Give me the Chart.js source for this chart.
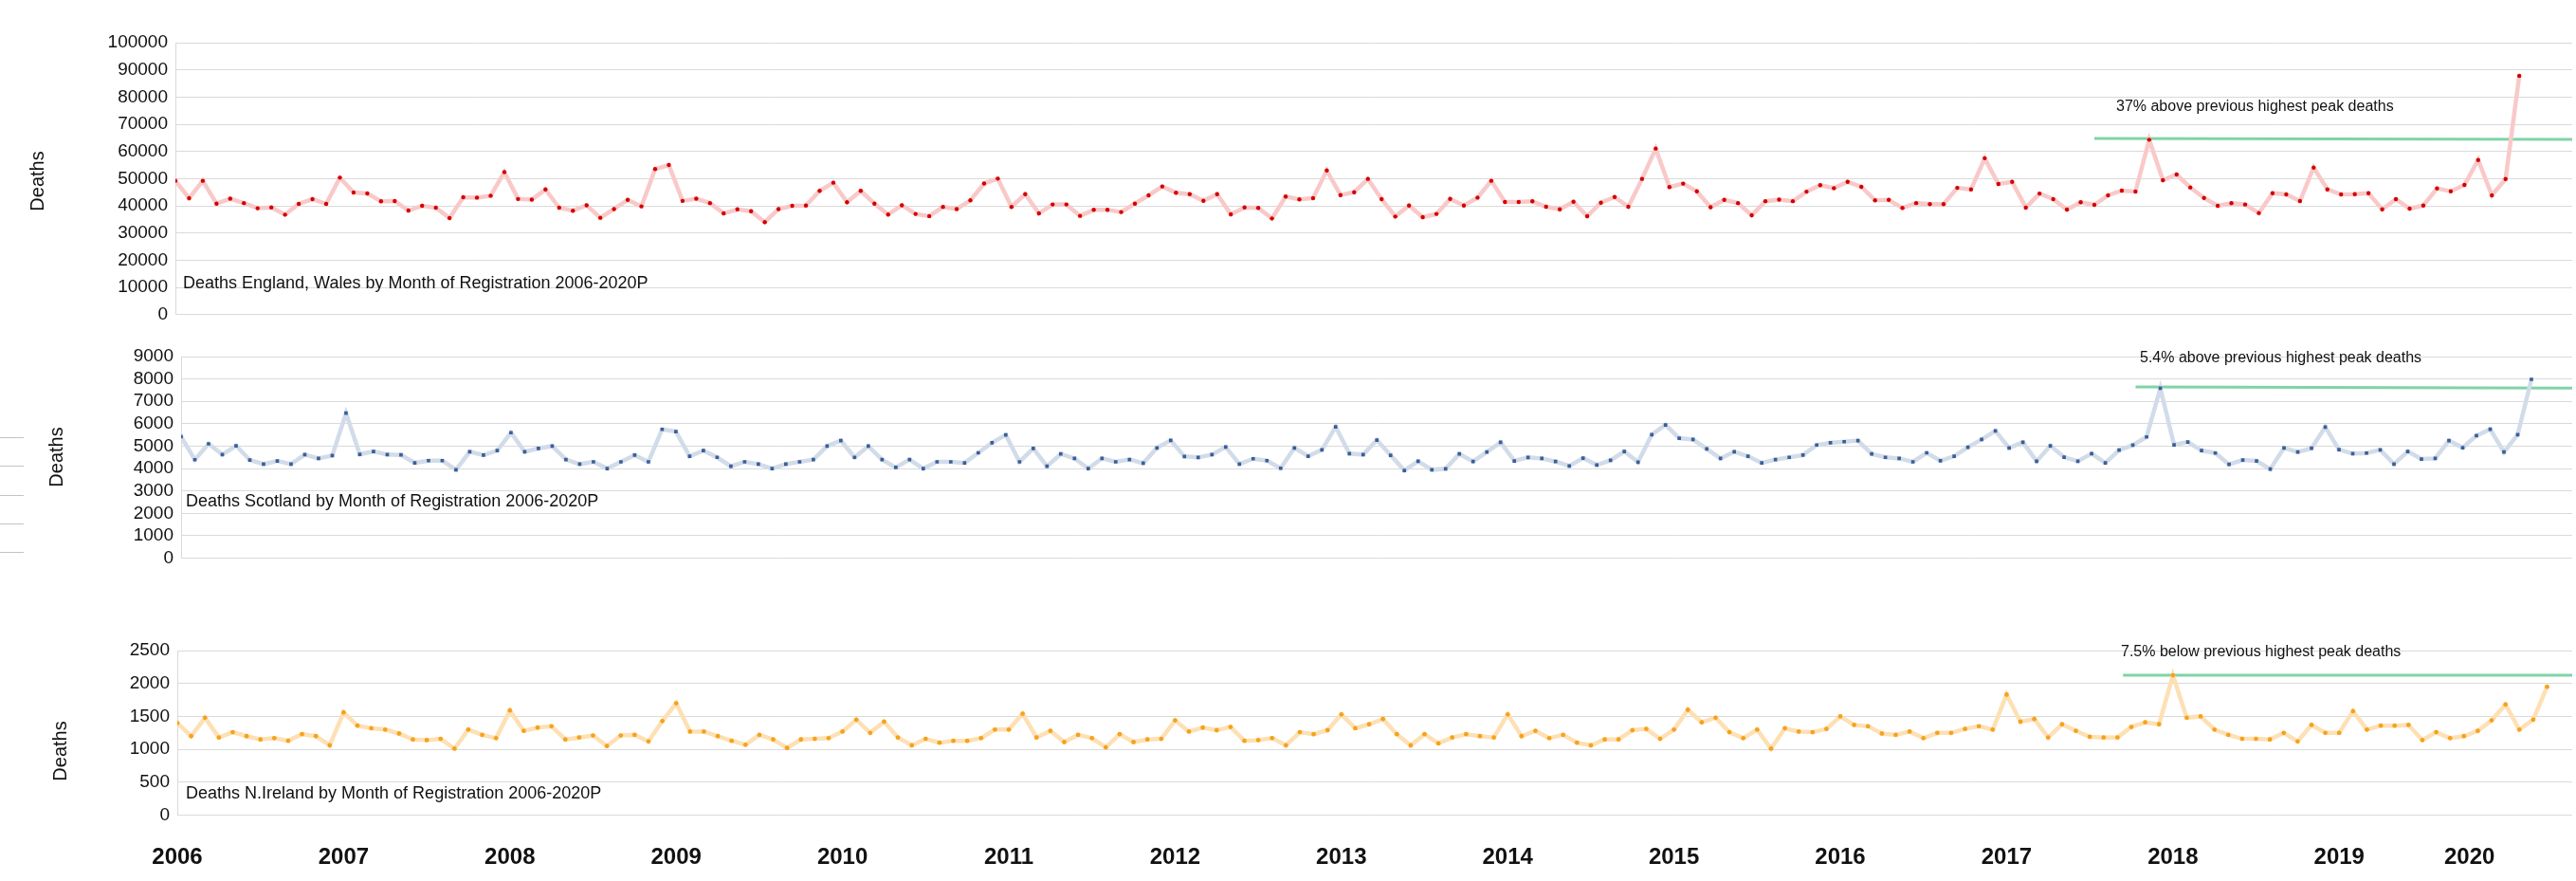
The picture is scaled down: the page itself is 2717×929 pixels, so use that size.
<!DOCTYPE html>
<html lang="en">
<head>
    <meta charset="UTF-8">
    <title>Deaths by Month of Registration 2006-2020P</title>
    <script src="https://cdn.jsdelivr.net/npm/chart.js"></script>
    <style>
        html, body { margin: 0; padding: 0; background: #fff; }
        body { width: 2717px; height: 929px; position: relative; overflow: hidden; }
        canvas { position: absolute; left: 0; }
    </style>
</head>
<body>
    <canvas id="ewChart" width="2717" height="360" style="top:0px"></canvas>
    <canvas id="scotChart" width="2717" height="270" style="top:345px"></canvas>
    <canvas id="niChart" width="2717" height="329" style="top:600px"></canvas>

    <script>
        // x-axis tick labels (one per January)
        const years = [2006, 2007, 2008, 2009, 2010, 2011, 2012, 2013, 2014, 2015, 2016, 2017, 2018, 2019, 2020];

        // Monthly deaths, Jan 2006 .. Apr 2020
        const ewDeaths = [
            49200, 42800, 49200, 40800, 42600, 41000, 39100, 39400, 36750, 40700, 42450, 40700,
            50350, 44900, 44550, 41650, 41750, 38250, 40000, 39300, 35500, 43150, 43000, 43700,
            52400, 42500, 42300, 46000, 39300, 38200, 40200, 35600, 38800, 42200, 39800, 53500,
            55000, 41800, 42600, 41000, 37200, 38700, 38000, 34000, 38800, 40000, 40100, 45500,
            48500, 41300, 45500, 40800, 36800, 40200, 37000, 36200, 39600, 38800, 42000, 48200,
            50000, 39600, 44300, 37200, 40500, 40500, 36300, 38500, 38500, 37700, 40800, 43850,
            47100, 44800, 44300, 41850, 44300, 36850, 39400, 39200, 35350, 43400, 42350, 42800,
            53000, 43950, 45000, 49900, 42450, 36050, 40100, 35800, 37000, 42550, 40100, 43000,
            49200, 41400, 41400, 41650, 39650, 38700, 41500, 36150, 41150, 43250, 39650, 49900,
            61050, 46900, 48150, 45350, 39500, 42200, 41000, 36500, 41700, 42300, 41700, 45200,
            47600, 46500, 48800, 47000, 42000, 42200, 39200, 41000, 40600, 40600, 46600, 46000,
            57500, 48030, 48830, 39350, 44500, 42450, 38600, 41300, 40350, 43850, 45600, 45250,
            64300, 49420, 51520, 46750, 42900, 40000, 40950, 40470, 37330, 44650, 44200, 41750,
            54070, 46040, 44190, 44300, 44650, 38700, 42450, 38950, 40120, 46400, 45350, 47680,
            56860, 43850, 49880, 87800
        ];

        const scotDeaths = [
            5428, 4395, 5102, 4623, 5017, 4381, 4198, 4339, 4198, 4623, 4452, 4579,
            6471, 4636, 4763, 4623, 4608, 4254, 4353, 4353, 3945, 4749, 4600, 4800,
            5600, 4750, 4900, 5000, 4400, 4200, 4300, 4000, 4300, 4600, 4300, 5750,
            5650, 4550, 4800, 4500, 4100, 4300, 4200, 4000, 4200, 4300, 4400, 5000,
            5250, 4500, 5000, 4400, 4050, 4400, 4000, 4300, 4300, 4250, 4700, 5150,
            5500, 4300, 4900, 4100, 4650, 4450, 4000, 4450, 4300, 4400, 4241, 4919,
            5258, 4538, 4496, 4623, 4962, 4198, 4438, 4353, 4014, 4919, 4551, 4834,
            5864, 4665, 4623, 5271, 4593, 3915, 4325, 3945, 3987, 4651, 4311, 4735,
            5173, 4339, 4496, 4452, 4311, 4114, 4466, 4156, 4367, 4763, 4283, 5512,
            5949, 5356, 5299, 4877, 4450, 4750, 4550, 4250, 4400, 4500, 4600, 5050,
            5150, 5200, 5250, 4650, 4500, 4450, 4300, 4700, 4350, 4550, 4950, 5300,
            5682, 4919, 5173, 4325, 5017, 4508, 4325, 4665, 4254, 4820, 5045, 5412,
            7589, 5059, 5186, 4805, 4692, 4184, 4381, 4339, 3973, 4919, 4735, 4905,
            5852, 4847, 4665, 4692, 4834, 4198, 4763, 4424, 4452, 5243, 4932, 5470,
            5752, 4735, 5512, 7983
        ];

        const niDeaths = [
            1400, 1200, 1480, 1180, 1260, 1200, 1150, 1170, 1130, 1230, 1200, 1060,
            1560, 1360, 1320, 1300, 1240, 1150, 1140, 1160, 1010, 1300, 1220, 1170,
            1590, 1280, 1330, 1350, 1150, 1180, 1210, 1050, 1210, 1220, 1120, 1430,
            1700, 1270, 1270, 1200, 1130, 1070, 1220, 1150, 1020, 1150, 1160, 1170,
            1270, 1450, 1250, 1420, 1180, 1060, 1160, 1100, 1130, 1130, 1170, 1300,
            1300, 1540, 1180, 1280, 1110, 1220, 1170, 1030, 1230, 1110, 1150, 1160,
            1440, 1270, 1330, 1290, 1340, 1130, 1140, 1170, 1060, 1260, 1230, 1290,
            1530, 1320, 1380, 1460, 1230, 1060, 1230, 1090, 1180, 1230, 1200, 1180,
            1530, 1200, 1280, 1170, 1220, 1100, 1060, 1150, 1150, 1290, 1310, 1160,
            1300, 1600, 1410, 1480, 1260, 1170, 1300, 1010, 1320, 1270, 1260, 1310,
            1500, 1370, 1350, 1240, 1220, 1270, 1170, 1250, 1250, 1310, 1350, 1300,
            1830, 1420, 1460, 1180, 1380, 1280, 1190, 1180, 1180, 1340, 1410, 1380,
            2125, 1480, 1500, 1300, 1220, 1160, 1160, 1150, 1250, 1120, 1370, 1250,
            1250, 1580, 1300, 1360, 1360, 1370, 1140, 1260, 1170, 1200, 1280, 1440,
            1680, 1300, 1450, 1950
        ];

        // previous highest peak reference lines: [start month index, value at start, value at end]
        const ewPeakLine = [140, 64750, 64400];
        const scotPeakLine = [142.2, 7644, 7589];
        const niPeakLine = [140.4, 2127, 2127];

        // month index where each year label sits (the last one is pulled in, as in the original)
        const yearTickPos = [0, 12, 24, 36, 48, 60, 72, 84, 96, 108, 120, 132, 144, 156, 165.4];

        const toPoints = arr => arr.map((v, i) => ({ x: i, y: v }));

        const textPlugin = {
            id: 'texts',
            afterDraw(chart, args, opts) {
                const ctx = chart.ctx;
                (opts.items || []).forEach(t => {
                    ctx.save();
                    ctx.font = t.font;
                    ctx.fillStyle = '#111';
                    ctx.textBaseline = 'middle';
                    ctx.textAlign = t.align || 'left';
                    ctx.translate(t.x, t.y);
                    if (t.rotate) ctx.rotate(t.rotate);
                    ctx.fillText(t.text, 0, 0);
                    ctx.restore();
                });
                (opts.stubs || []).forEach(y => {
                    ctx.save();
                    ctx.strokeStyle = '#c4c4c4';
                    ctx.lineWidth = 1;
                    ctx.beginPath();
                    ctx.moveTo(0, y + 0.5);
                    ctx.lineTo(25, y + 0.5);
                    ctx.stroke();
                    ctx.restore();
                });
            }
        };

        function makeChart(id, cfg) {
            const xMax = (2717 - cfg.left) / cfg.step;
            const peak = cfg.peak;
            return new Chart(document.getElementById(id), {
                type: 'line',
                data: {
                    datasets: [{
                        data: toPoints(cfg.values),
                        borderColor: cfg.lineColor,
                        borderWidth: 4.5,
                        tension: 0,
                        pointStyle: cfg.pointStyle,
                        pointRadius: cfg.pointRadius,
                        pointBackgroundColor: cfg.pointColor,
                        pointBorderWidth: 0
                    }, {
                        data: [{ x: peak[0], y: peak[1] }, { x: xMax, y: peak[2] }],
                        borderColor: '#7fd4a7',
                        borderWidth: 3,
                        pointRadius: 0,
                        tension: 0
                    }]
                },
                options: {
                    responsive: false,
                    animation: false,
                    events: [],
                    layout: { padding: { top: cfg.padTop, bottom: cfg.padBottom, left: 0, right: 0 } },
                    plugins: {
                        legend: { display: false },
                        tooltip: { enabled: false },
                        texts: { items: cfg.texts, stubs: cfg.stubs || [] }
                    },
                    scales: {
                        x: {
                            type: 'linear',
                            min: 0,
                            max: xMax,
                            display: cfg.showYears,
                            grid: { display: false },
                            border: { display: false },
                            afterBuildTicks: s => { s.ticks = yearTickPos.map(p => ({ value: p })); },
                            afterFit: s => { if (cfg.xHeight) s.height = cfg.xHeight; },
                            ticks: {
                                padding: 22,
                                maxRotation: 0,
                                autoSkip: false,
                                color: '#111',
                                font: { family: 'Liberation Sans', size: 24, weight: 'bold' },
                                callback: (v, i) => years[i]
                            }
                        },
                        y: {
                            min: 0,
                            max: cfg.yMax,
                            afterFit: s => { s.width = cfg.left; },
                            grid: { color: '#dadada', drawTicks: false },
                            border: { display: true, color: '#dadada' },
                            ticks: {
                                stepSize: cfg.yStep,
                                autoSkip: false,
                                padding: 8,
                                color: '#111',
                                font: { family: 'Liberation Sans', size: 19 },
                                callback: v => String(v)
                            }
                        }
                    }
                },
                plugins: [textPlugin]
            });
        }

        const rot = -Math.PI / 2;

        makeChart('ewChart', {
            values: ewDeaths, left: 185, step: 14.48, yMax: 100000, yStep: 10000,
            padTop: 45, padBottom: 28.3, showYears: false,
            lineColor: '#f9c9c9', pointColor: '#d40000', pointStyle: 'circle', pointRadius: 2.2,
            peak: ewPeakLine,
            texts: [
                { text: 'Deaths', x: 40, y: 191, font: '20px "Liberation Sans"', align: 'center', rotate: rot },
                { text: 'Deaths England, Wales by Month of Registration 2006-2020P', x: 193, y: 299, font: '18px "Liberation Sans"' },
                { text: '37% above previous highest peak deaths', x: 2232, y: 113, font: '16px "Liberation Sans"' }
            ]
        });

        makeChart('scotChart', {
            values: scotDeaths, left: 191, step: 14.52, yMax: 9000, yStep: 1000,
            padTop: 31, padBottom: 26.5, showYears: false,
            lineColor: '#d2dce9', pointColor: '#3a5f98', pointStyle: 'rect', pointRadius: 2.6,
            peak: scotPeakLine,
            stubs: [116, 146, 177, 207, 237],
            texts: [
                { text: 'Deaths', x: 60, y: 137, font: '20px "Liberation Sans"', align: 'center', rotate: rot },
                { text: 'Deaths Scotland by Month of Registration 2006-2020P', x: 196, y: 184, font: '18px "Liberation Sans"' },
                { text: '5.4% above previous highest peak deaths', x: 2257, y: 33, font: '16px "Liberation Sans"' }
            ]
        });

        makeChart('niChart', {
            values: niDeaths, left: 187, step: 14.64, yMax: 2500, yStep: 500,
            padTop: 86, padBottom: 0, showYears: true, xHeight: 69.4,
            lineColor: '#fde0b4', pointColor: '#f7a21b', pointStyle: 'circle', pointRadius: 2.4,
            peak: niPeakLine,
            texts: [
                { text: 'Deaths', x: 64, y: 192, font: '20px "Liberation Sans"', align: 'center', rotate: rot },
                { text: 'Deaths N.Ireland by Month of Registration 2006-2020P', x: 196, y: 237, font: '18px "Liberation Sans"' },
                { text: '7.5% below previous highest peak deaths', x: 2237, y: 88, font: '16px "Liberation Sans"' }
            ]
        });
    </script>
</body>
</html>
